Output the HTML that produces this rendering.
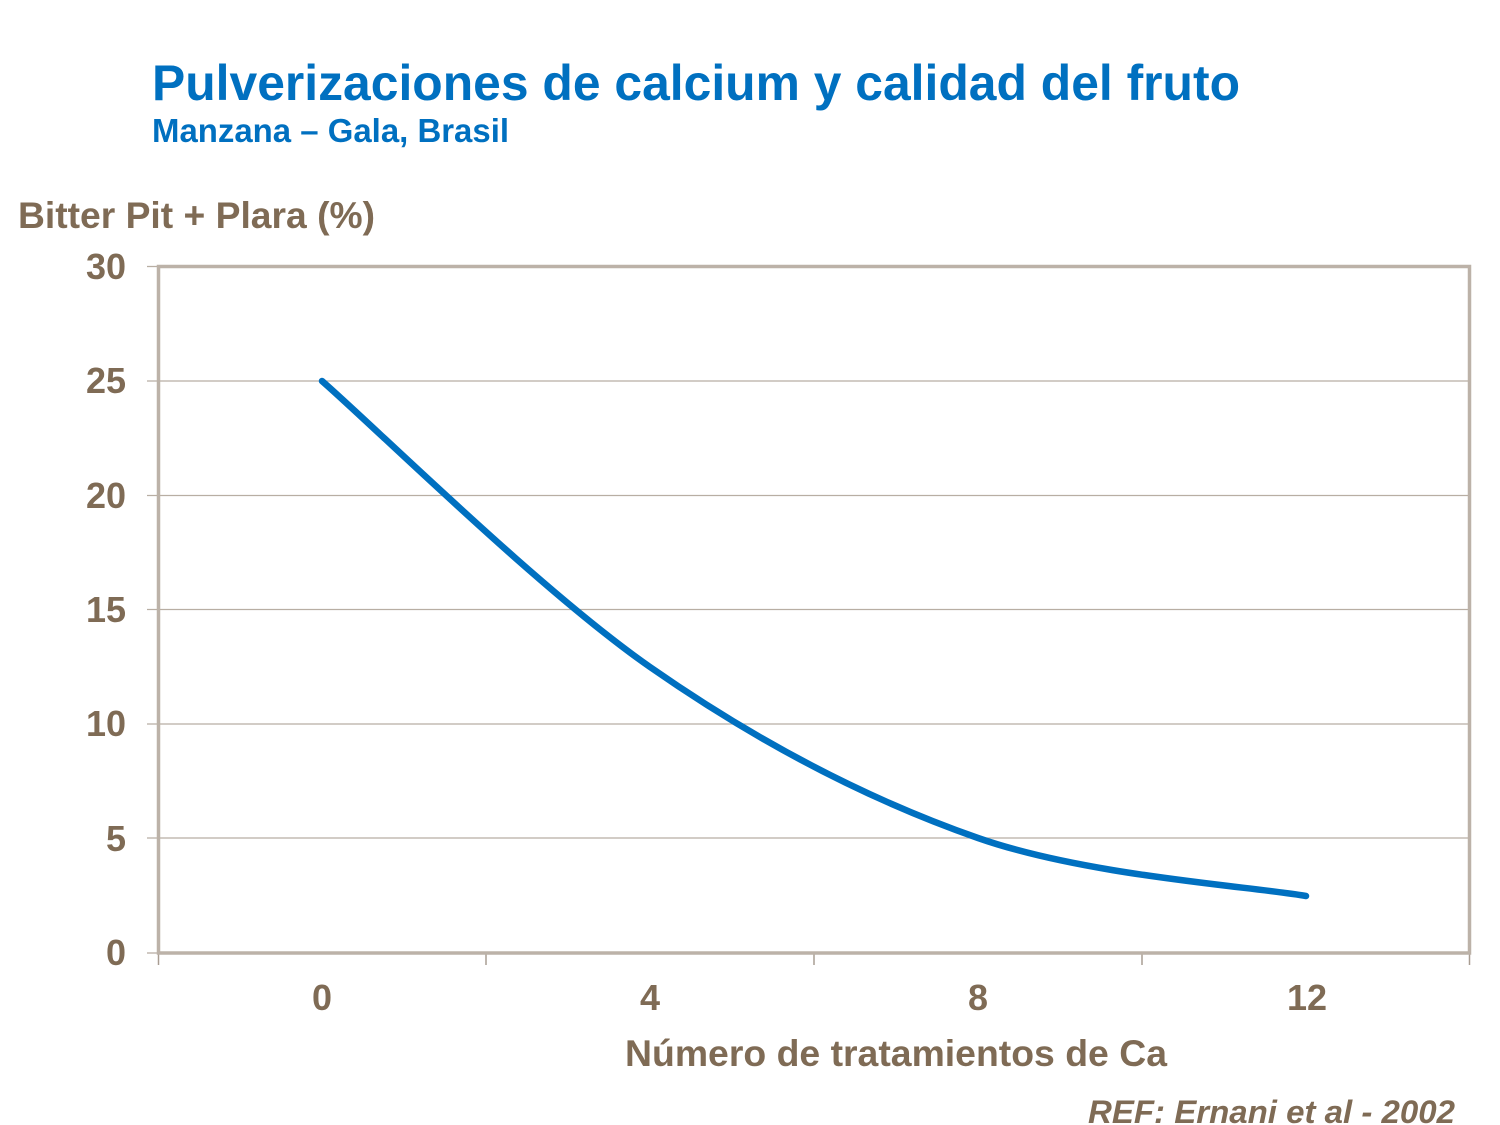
<!DOCTYPE html>
<html>
<head>
<meta charset="utf-8">
<style>
html,body{margin:0;padding:0;background:#fff;}
svg{display:block;}
text{font-family:"Liberation Sans",Arial,sans-serif;font-weight:bold;}
</style>
</head>
<body>
<svg width="1500" height="1125" viewBox="0 0 1500 1125" xmlns="http://www.w3.org/2000/svg">
<rect x="0" y="0" width="1500" height="1125" fill="#ffffff"/>
<!-- Title -->
<text x="152" y="100" font-size="50" fill="#0070c0" textLength="1088" lengthAdjust="spacingAndGlyphs">Pulverizaciones de calcium y calidad del fruto</text>
<text x="152" y="142" font-size="33" fill="#0070c0" textLength="357" lengthAdjust="spacingAndGlyphs">Manzana – Gala, Brasil</text>
<!-- Y title -->
<text x="18" y="228" font-size="37" fill="#7f6b55" textLength="357" lengthAdjust="spacingAndGlyphs">Bitter Pit + Plara (%)</text>
<!-- gridlines -->
<g stroke="#b8aea3" stroke-width="1.3">
<line x1="147" y1="381" x2="1469" y2="381"/>
<line x1="147" y1="495.5" x2="1469" y2="495.5"/>
<line x1="147" y1="609.5" x2="1469" y2="609.5"/>
<line x1="147" y1="724" x2="1469" y2="724"/>
<line x1="147" y1="838" x2="1469" y2="838"/>
<line x1="147" y1="266.5" x2="158" y2="266.5"/>
<line x1="147" y1="953" x2="158" y2="953"/>
</g>
<!-- x ticks -->
<g stroke="#a89d92" stroke-width="1.5">
<line x1="158.5" y1="953" x2="158.5" y2="965"/>
<line x1="486" y1="953" x2="486" y2="965"/>
<line x1="814" y1="953" x2="814" y2="965"/>
<line x1="1142" y1="953" x2="1142" y2="965"/>
<line x1="1469.5" y1="953" x2="1469.5" y2="965"/>
</g>
<!-- frame -->
<rect x="158.5" y="266.5" width="1311" height="686.5" fill="none" stroke="#bcb2a8" stroke-width="3.5"/>
<!-- y labels -->
<g font-size="36" fill="#7f6b55" text-anchor="end">
<text x="126" y="279">30</text>
<text x="126" y="393">25</text>
<text x="126" y="508">20</text>
<text x="126" y="622">15</text>
<text x="126" y="736">10</text>
<text x="126" y="851">5</text>
<text x="126" y="965">0</text>
</g>
<!-- x labels -->
<g font-size="36" fill="#7f6b55" text-anchor="middle">
<text x="322" y="1010">0</text>
<text x="650" y="1010">4</text>
<text x="978" y="1010">8</text>
<text x="1307" y="1010">12</text>
</g>
<!-- x title -->
<text x="625" y="1066" font-size="37" fill="#7f6b55" textLength="542" lengthAdjust="spacingAndGlyphs">Número de tratamientos de Ca</text>
<!-- series -->
<path d="M322,381 C376.7,428.7 540.7,590.8 650,667 C759.3,743.2 868.7,799.8 978,838 C1087.3,876.2 1251.3,886.3 1306,896" fill="none" stroke="#0070c0" stroke-width="6.5" stroke-linecap="round" stroke-linejoin="round"/>
<!-- ref -->
<text x="1088" y="1123" font-size="32" font-style="italic" fill="#7f6b55" textLength="367" lengthAdjust="spacingAndGlyphs">REF: Ernani et al - 2002</text>
</svg>
</body>
</html>
